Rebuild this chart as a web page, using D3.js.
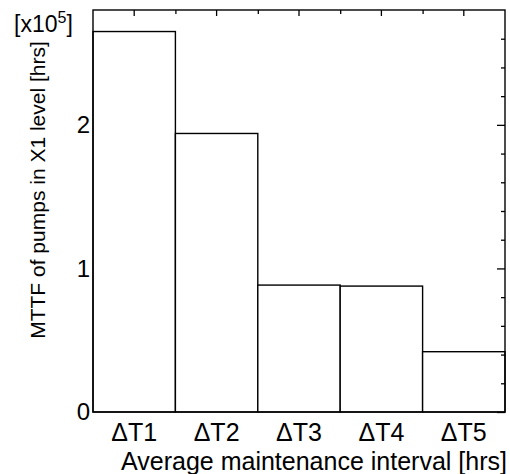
<!DOCTYPE html>
<html><head><meta charset="utf-8">
<script src="https://cdn.jsdelivr.net/npm/d3@7"></script>
<style>
body{margin:0;background:#fff;}
text{font-family:"Liberation Sans",Arial,sans-serif;fill:#000;}
</style></head>
<body><svg id="c" width="510" height="474"></svg>
<script>
const categories = ["ΔT1","ΔT2","ΔT3","ΔT4","ΔT5"];
const mttf = [2.65, 1.94, 0.884, 0.877, 0.42];   // x10^5 hrs
const yTicks = [0, 1, 2];
const yMax = 2.8;

const svg = d3.select("#c");
const m = {left:93, top:10, right:5, bottom:62};
const W = 510 - m.left - m.right, H = 474 - m.top - m.bottom;
const g = svg.append("g").attr("transform", `translate(${m.left},${m.top})`);

const x = d3.scaleBand().domain(categories).range([0, W]).padding(0);
const y = d3.scaleLinear().domain([0, yMax]).range([H, 0]);

// bars
g.selectAll("rect.bar").data(categories).join("rect")
  .attr("class","bar")
  .attr("x", d => x(d)).attr("width", x.bandwidth())
  .attr("y", (d,i) => y(mttf[i])).attr("height", (d,i) => H - y(mttf[i]))
  .attr("fill","#fff").attr("stroke","#000").attr("stroke-width",1.4);

// frame
g.append("rect").attr("x",0).attr("y",0).attr("width",W).attr("height",H)
  .attr("fill","none").attr("stroke","#000").attr("stroke-width",1.4);

// bottom axis labels
const xa = g.append("g").attr("transform",`translate(0,${H})`)
  .call(d3.axisBottom(x).tickSize(0).tickPadding(8));
xa.select(".domain").remove();
xa.selectAll("text").attr("font-size",25).attr("dy","21px")
  .style("font-family",'"Liberation Sans",Arial,sans-serif');

// left axis labels
const ya = g.append("g").call(d3.axisLeft(y).tickValues(yTicks).tickSize(0).tickPadding(3).tickFormat(d3.format("d")));
ya.select(".domain").remove();
ya.selectAll("text").attr("font-size",24)
  .style("font-family",'"Liberation Sans",Arial,sans-serif');

// top axis inward ticks (band centers long, edges short)
const topMajor = g.append("g").call(d3.axisTop(x).tickSize(-6).tickFormat(""));
topMajor.select(".domain").remove();
const edgeScale = d3.scaleLinear().domain([0, categories.length]).range([0, W]);
const topMinor = g.append("g").call(d3.axisTop(edgeScale).tickValues(d3.range(1, categories.length)).tickSize(-4).tickFormat(""));
topMinor.select(".domain").remove();

// right axis inward ticks
const rMajor = g.append("g").attr("transform",`translate(${W},0)`)
  .call(d3.axisRight(y).tickValues(yTicks).tickSize(-8).tickFormat(""));
rMajor.select(".domain").remove();
const rMinor = g.append("g").attr("transform",`translate(${W},0)`)
  .call(d3.axisRight(y).tickValues(d3.range(0.2, yMax, 0.2).filter(v => Math.abs(v - Math.round(v)) > 1e-6)).tickSize(-4).tickFormat(""));
rMinor.select(".domain").remove();
svg.selectAll(".tick line").attr("stroke","#000").attr("stroke-width",1.3);

// axis titles
svg.append("text").attr("x", 314).attr("y", 470).attr("text-anchor","middle")
  .attr("font-size",25).text("Average maintenance interval [hrs]");
svg.append("text").attr("transform","translate(45,190) rotate(-90)").attr("text-anchor","middle")
  .attr("font-size",21).text("MTTF of pumps in X1 level [hrs]");

// multiplier
const mult = svg.append("text").attr("x",14).attr("y",32).attr("font-size",23);
mult.append("tspan").text("[x10");
mult.append("tspan").attr("font-size",16).attr("dy",-9).text("5");
mult.append("tspan").attr("dy",9).text("]");
</script></body></html>
